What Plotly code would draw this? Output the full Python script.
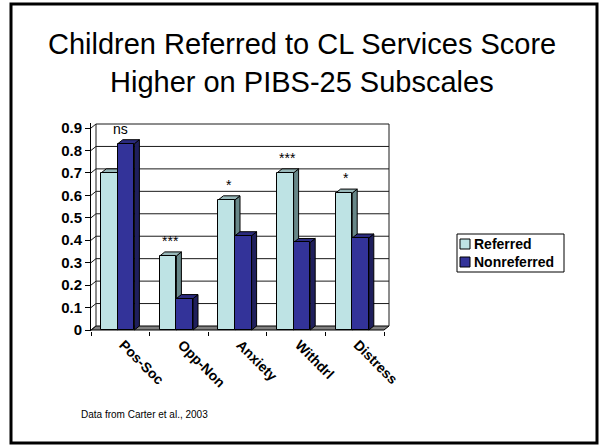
import plotly.graph_objects as go

# ---------------- data ----------------
categories = ["Pos-Soc", "Opp-Non", "Anxiety", "Withdrl", "Distress"]
referred = [0.70, 0.33, 0.58, 0.70, 0.61]
nonreferred = [0.83, 0.14, 0.42, 0.39, 0.41]
significance = ["ns", "***", "*", "***", "*"]
series_names = ["Referred", "Nonreferred"]
y_tick_values = [0, 0.1, 0.2, 0.3, 0.4, 0.5, 0.6, 0.7, 0.8, 0.9]
title_lines = ["Children Referred to CL Services Score", "Higher on PIBS-25 Subscales"]
footnote = "Data from Carter et al., 2003"

# ---------------- geometry / style ----------------
W, H = 600, 445
ML, MR, MT, MB = 91, 210, 123, 114
PW, PH = W - ML - MR, H - MT - MB
DXP, DYP = 5, 4                      # 3-D depth in pixels
CU = (PW - DXP - 1) / len(categories)  # px per category
YU = (PH - 1 - DYP - 1) / 0.9          # px per value unit
DX, DY = DXP / CU, DYP / YU
BW = 16.6 / CU                         # bar width in category units
FONT = "Liberation Sans, Arial, sans-serif"

front = ["#BEE3E4", "#333399"]
side = ["#678788", "#1F1F5C"]
top = ["#98B8B9", "#2B2B7E"]
offsets = [-BW - DX / 2, -DX / 2]


def px_x(p):
    return (p - ML) / PW


def px_y(p):
    return (H - MB - p) / PH


n = len(categories)
idx = list(range(n))
fig = go.Figure()
shapes = []

x_lo, x_hi = -0.5, n - 0.5

# floor
shapes.append(dict(type="path", xref="x", yref="y", layer="below",
                   path=f"M{x_lo},0 L{x_hi},0 L{x_hi + DX},{DY} L{x_lo + DX},{DY} Z",
                   fillcolor="#808080", line=dict(color="black", width=1)))
# back wall gridlines and side wall slants
for v in y_tick_values:
    if v > 0:
        shapes.append(dict(type="line", xref="x", yref="y", layer="below",
                           x0=x_lo + DX, x1=x_hi + DX, y0=v + DY, y1=v + DY,
                           line=dict(color="#1a1a1a", width=1)))
    shapes.append(dict(type="line", xref="x", yref="y", layer="below",
                       x0=x_lo, x1=x_lo + DX, y0=v, y1=v + DY,
                       line=dict(color="#1a1a1a", width=1)))
ymax = y_tick_values[-1]
for xe in (x_lo + DX, x_hi + DX):
    shapes.append(dict(type="line", xref="x", yref="y", layer="below",
                       x0=xe, x1=xe, y0=DY, y1=ymax + DY,
                       line=dict(color="#1a1a1a", width=1)))

# bars: front faces as bar traces, top/side faces as paths from the same data
for s, vals in enumerate([referred, nonreferred]):
    fig.add_trace(go.Bar(x=idx, y=vals, width=BW, offset=offsets[s], name=series_names[s],
                         marker=dict(color=front[s], line=dict(color="black", width=1)),
                         showlegend=False))
    for i, v in enumerate(vals):
        x0 = i + offsets[s]
        x1 = x0 + BW
        shapes.append(dict(type="path", xref="x", yref="y", layer="below",
                           path=f"M{x1},0 L{x1 + DX},{DY} L{x1 + DX},{v + DY} L{x1},{v} Z",
                           fillcolor=side[s], line=dict(color="black", width=1)))
        shapes.append(dict(type="path", xref="x", yref="y", layer="below",
                           path=f"M{x0},{v} L{x0 + DX},{v + DY} L{x1 + DX},{v + DY} L{x1},{v} Z",
                           fillcolor=top[s], line=dict(color="black", width=1)))

annotations = []
# significance marks
for i, sig in enumerate(significance):
    if sig == "ns":
        ax, ay = i, max(referred[i], nonreferred[i])
    else:
        ax, ay = i - BW / 2, referred[i]
    annotations.append(dict(x=ax, y=ay + DY, xref="x", yref="y", text=sig, showarrow=False,
                            yanchor="middle", yshift=11,
                            font=dict(family=FONT, size=14, color="black")))

# legend (drawn manually to match compact PowerPoint legend)
LEG_X0, LEG_Y0, LEG_X1, LEG_Y1 = 457, 234, 564, 272
shapes.append(dict(type="rect", xref="paper", yref="paper", layer="above",
                   x0=px_x(LEG_X0), x1=px_x(LEG_X1), y0=px_y(LEG_Y1), y1=px_y(LEG_Y0),
                   fillcolor="white", line=dict(color="black", width=1)))
for s, name in enumerate(series_names):
    cy = 244 + 18 * s
    shapes.append(dict(type="rect", xref="paper", yref="paper", layer="above",
                       x0=px_x(460), x1=px_x(470), y0=px_y(cy + 5), y1=px_y(cy - 5),
                       fillcolor=front[s], line=dict(color="black", width=1)))
    annotations.append(dict(x=px_x(472), y=px_y(cy), xref="paper", yref="paper",
                            text=name, showarrow=False, xanchor="left", yanchor="middle",
                            font=dict(family=FONT, size=14, color="black", weight="bold")))

# title (two lines placed individually)
for k, line in enumerate(title_lines):
    annotations.append(dict(x=px_x(302), y=px_y(44 + 38 * k), xref="paper", yref="paper",
                            text=line, showarrow=False,
                            xanchor="center", yanchor="middle",
                            font=dict(family=FONT, size=29, color="black")))
# footnote
annotations.append(dict(x=px_x(79), y=px_y(414), xref="paper", yref="paper",
                        text=footnote, showarrow=False, xanchor="left", yanchor="middle",
                        font=dict(family=FONT, size=10, color="black")))

# slide frame
shapes.append(dict(type="rect", xref="paper", yref="paper", layer="above",
                   x0=px_x(11), x1=px_x(597), y0=px_y(443), y1=px_y(4),
                   line=dict(color="black", width=3)))

fig.update_layout(
    width=W, height=H,
    margin=dict(l=ML, r=MR, t=MT, b=MB, pad=0),
    paper_bgcolor="white", plot_bgcolor="white",
    barmode="overlay", bargap=0,
    shapes=shapes, annotations=annotations,
    showlegend=False,
    font=dict(family=FONT, color="black"),
    xaxis=dict(range=[x_lo, x_hi + DX + 1 / CU], tickmode="array", tickvals=idx,
               ticktext=categories, tickangle=45, ticks="", showgrid=False,
               zeroline=False, showline=False, fixedrange=True,
               ticklabelstandoff=2, ticklabelshift=3,
               tickfont=dict(family=FONT, size=14, color="black", weight="bold"),
               minor=dict(tickmode="array",
                          tickvals=[i - 0.5 for i in range(n + 1)],
                          ticks="outside", ticklen=4, tickcolor="black", tickwidth=1,
                          showgrid=False)),
    yaxis=dict(range=[-1 / YU, ymax + DY + 1 / YU], tickmode="array",
               tickvals=y_tick_values, ticktext=[f"{v:g}" for v in y_tick_values],
               ticks="outside", ticklen=5, tickcolor="black", showgrid=False,
               zeroline=False, showline=True, linecolor="black", linewidth=1,
               fixedrange=True,
               tickfont=dict(family=FONT, size=15, color="black", weight="bold")),
)

fig.write_html("out.html")
